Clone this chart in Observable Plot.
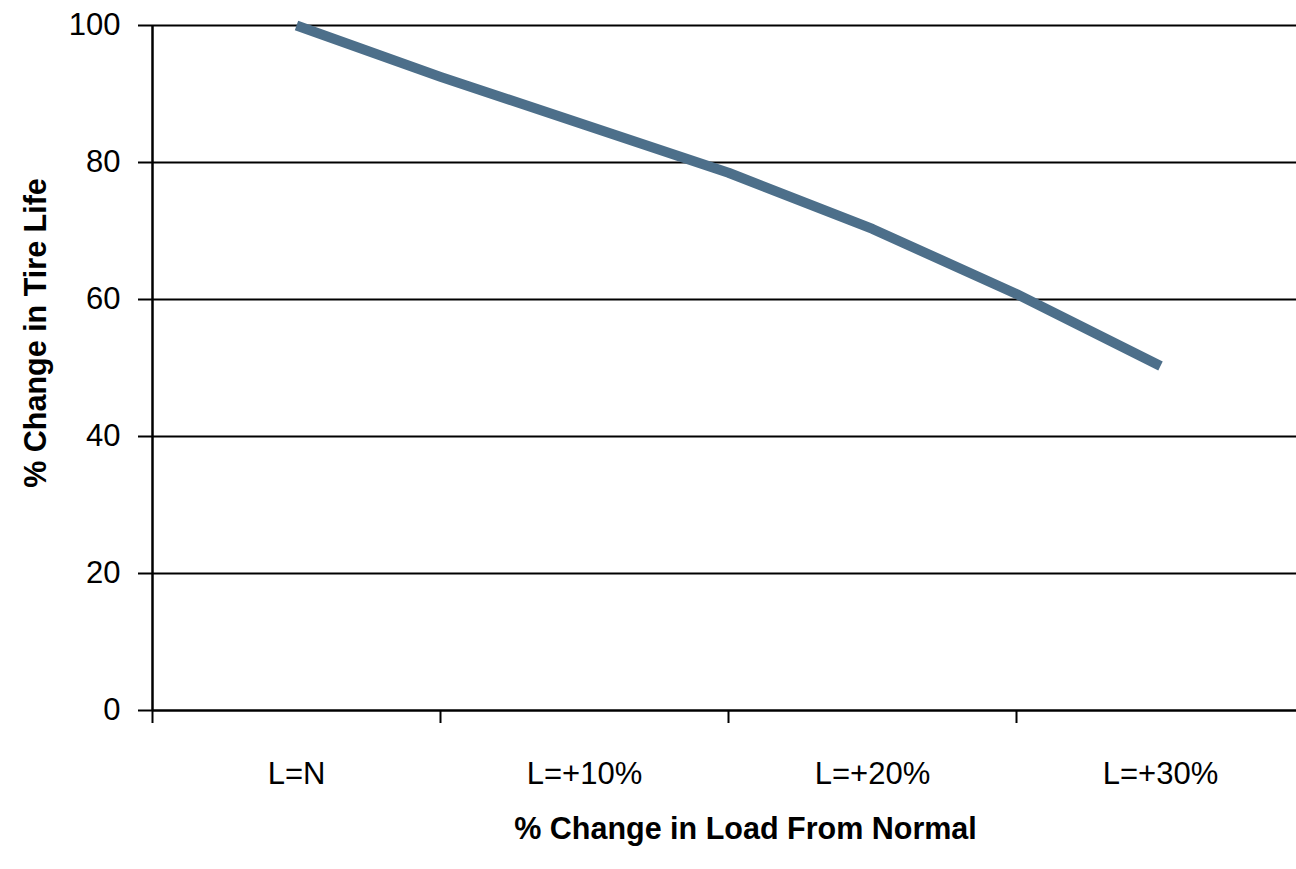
<!DOCTYPE html>
<html>
<head>
<meta charset="utf-8">
<script src="https://cdn.jsdelivr.net/npm/d3@7"></script>
<script src="https://cdn.jsdelivr.net/npm/@observablehq/plot@0.6"></script>
<style>
  html, body { margin: 0; padding: 0; background: #fff; overflow: hidden; }
</style>
</head>
<body>
<div id="chart"></div>
<script>
// Category labels and their load values (% over normal)
const categories = ["L=N", "L=+10%", "L=+20%", "L=+30%"];
const categoryLoads = [0, 10, 20, 30];
// Boundaries between categories (tick marks)
const boundaryLoads = [-5, 5, 15, 25];
// Line series: load (%) and % of tire life
const seriesLoad = [0, 5, 10, 15, 20, 25, 30];
const seriesLife = [100, 92.5, 85.5, 78.5, 70.3, 60.8, 50.3];
// Y axis ticks
const yTicks = [0, 20, 40, 60, 80, 100];
const gridValues = [20, 40, 60, 80, 100];

const points = seriesLoad.map((x, i) => ({load: x, life: seriesLife[i]}));

const FONT = "'Liberation Sans Narrow', 'Liberation Sans', Arial, sans-serif";

const chart = Plot.plot({
  width: 1296,
  height: 869,
  marginLeft: 152,
  marginTop: 25,
  marginBottom: 159,
  marginRight: 0,
  style: {fontFamily: FONT, color: "black", background: "white", overflow: "hidden"},
  x: {domain: [-5, 35], range: [152, 1304]},
  y: {domain: [0, 100]},
  marks: [
    Plot.ruleY(gridValues, {stroke: "black", strokeWidth: 2}),
    Plot.ruleY([0], {stroke: "black", strokeWidth: 2.5}),
    Plot.ruleX([boundaryLoads[0]], {y1: 0, y2: 100, stroke: "black", strokeWidth: 2.5}),
    Plot.axisY({ticks: yTicks, tickSize: 14, tickPadding: 18, fontSize: 31, stroke: "black", strokeWidth: 2, strokeOpacity: 1, label: null}),
    Plot.axisX({ticks: boundaryLoads, tickSize: 13, tickFormat: () => "", stroke: "black", strokeWidth: 2, strokeOpacity: 1, label: null}),
    Plot.axisX({ticks: categoryLoads, tickSize: 0, tickPadding: 51, fontSize: 31, tickFormat: (d) => categories[categoryLoads.indexOf(d)], label: null}),
    Plot.line(points, {x: "load", y: "life", stroke: "#4d6f8a", strokeWidth: 10, strokeLinecap: "butt", strokeLinejoin: "round"}),
    Plot.text(["% Change in Load From Normal"], {frameAnchor: "bottom", dx: 21, dy: 128, fontSize: 30.5, fontWeight: "bold", fill: "black"}),
    Plot.text(["% Change in Tire Life"], {frameAnchor: "left", dx: -116, dy: -35, rotate: -90, textAnchor: "middle", fontSize: 30.5, fontWeight: "bold", fill: "black"})
  ]
});
document.getElementById("chart").appendChild(chart);
</script>
</body>
</html>
